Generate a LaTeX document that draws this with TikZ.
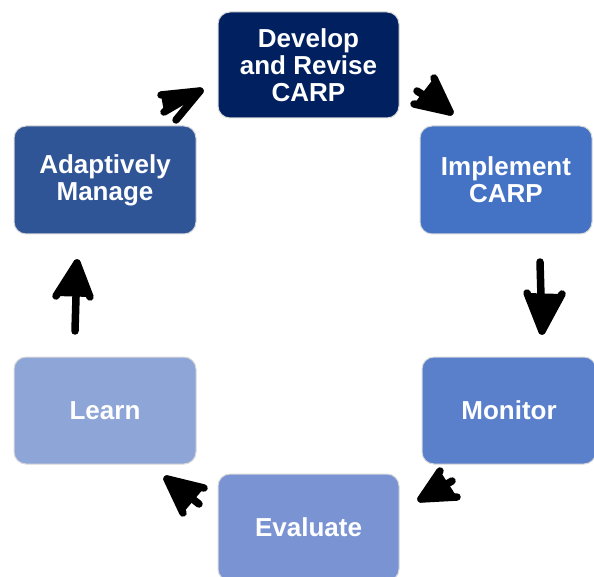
\documentclass[tikz,border=0pt]{standalone}
\usepackage{fontspec}
\setmainfont{Liberation Sans}
\usetikzlibrary{calc}
\definecolor{cDev}{HTML}{002060}
\definecolor{cImp}{HTML}{4472C4}
\definecolor{cAda}{HTML}{2F5597}
\definecolor{cMon}{HTML}{5A7FCB}
\definecolor{cEva}{HTML}{7A93D2}
\definecolor{cLea}{HTML}{8EA5D8}
\newcommand{\handarrow}[4]{%
  \draw[arr] (#2) -- (#1) -- (#4);
  \draw[arr] (#3) -- (#1);
  \fill (#1) -- ($(#1)!0.3!(#2)$) -- ($(#1)!0.3!(#3)$) -- ($(#1)!0.3!(#4)$) -- cycle;}
\begin{document}
\begin{tikzpicture}[x=1pt,y=-1pt,
  box/.style={draw=black!15, line width=1pt, rounded corners=12pt, text=white,
    font=\fontsize{26}{27}\selectfont\bfseries, align=center,
    minimum height=107pt, inner sep=0pt},
  arr/.style={line width=7.5pt, line cap=round, line join=round, draw=black, fill=black}]
\useasboundingbox (0,0) rectangle (594,577);
\clip (0,0) rectangle (594,577);
\node[box, fill=cDev, minimum width=181pt, minimum height=106pt] (dev) at (308.5,65) {Develop\\and Revise\\CARP};
\node[box, fill=cImp, minimum width=172pt, minimum height=108pt] (imp) at (506,180) {Implement\\CARP};
\node[box, fill=cAda, minimum width=182pt, minimum height=108pt] (ada) at (105,180) {Adaptively\\Manage};
\node[box, fill=cMon, minimum width=174pt] (mon) at (509,410.5) {Monitor};
\node[box, fill=cLea, minimum width=182pt] (lea) at (105,410.5) {Learn};
\node[box, fill=cEva, minimum width=181pt] (eva) at (308.5,527.5) {Evaluate};
% hand-drawn arrows: tip, wing, shaft, wing
\coordinate (t1) at (200,91); \coordinate (w1a) at (161,95); \coordinate (s1) at (176,120); \coordinate (w1b) at (164,112);
\coordinate (t2) at (450,112); \coordinate (w2a) at (434,78); \coordinate (s2) at (417,91); \coordinate (w2b) at (414,104);
\coordinate (t3) at (542,331); \coordinate (w3a) at (527,293); \coordinate (s3) at (540,262); \coordinate (w3b) at (562,294);
\coordinate (t4) at (421,499); \coordinate (w4a) at (440,471); \coordinate (s4) at (452,481); \coordinate (w4b) at (457,497);
\coordinate (t5) at (167,479); \coordinate (w5a) at (204,488); \coordinate (s5) at (199,504); \coordinate (w5b) at (183,513);
\coordinate (t6) at (77,263); \coordinate (w6a) at (56,296); \coordinate (s6) at (75,331); \coordinate (w6b) at (90,297);
\handarrow{t1}{w1a}{s1}{w1b}
\handarrow{t2}{w2a}{s2}{w2b}
\handarrow{t3}{w3a}{s3}{w3b}
\handarrow{t4}{w4a}{s4}{w4b}
\handarrow{t5}{w5a}{s5}{w5b}
\handarrow{t6}{w6a}{s6}{w6b}
\end{tikzpicture}
\end{document}
